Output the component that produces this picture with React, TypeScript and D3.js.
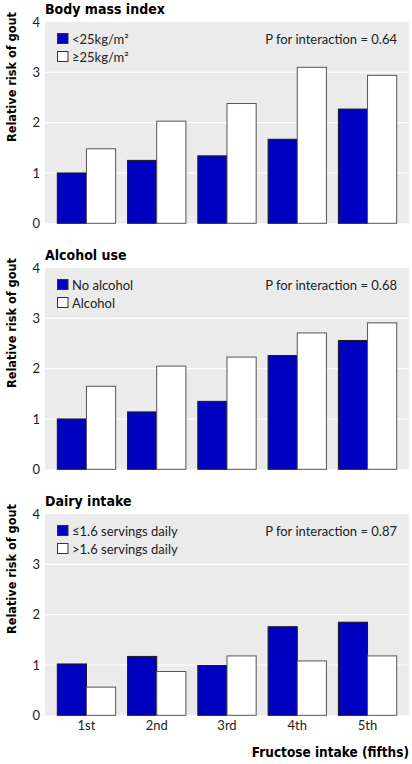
import React from "react";
import * as d3 from "d3";

const categories = ["1st", "2nd", "3rd", "4th", "5th"];
const yTicks = [0, 1, 2, 3, 4];

const panelTitles = ["Body mass index", "Alcohol use", "Dairy intake"];
const legendFirst = ["<25kg/m²", "No alcohol", "≤1.6 servings daily"];
const legendSecond = ["≥25kg/m²", "Alcohol", ">1.6 servings daily"];
const pValues = ["P for interaction = 0.64", "P for interaction = 0.68", "P for interaction = 0.87"];

const bmiLow = [1.0, 1.25, 1.34, 1.67, 2.27];
const bmiHigh = [1.48, 2.03, 2.38, 3.1, 2.94];
const alcoholNo = [1.0, 1.14, 1.35, 2.26, 2.56];
const alcoholYes = [1.65, 2.05, 2.23, 2.71, 2.91];
const dairyLow = [1.02, 1.17, 0.99, 1.76, 1.85];
const dairyHigh = [0.56, 0.87, 1.18, 1.08, 1.18];

const firstSeries = [bmiLow, alcoholNo, dairyLow];
const secondSeries = [bmiHigh, alcoholYes, dairyHigh];

const W = 412;
const H = 764;
const plotLeft = 45;
const plotRight = 409;
const panelTop0 = 22;
const panelStep = 246;
const plotH = 201.3;
const BLUE = "#0000c0";
const BG = "#ebebeb";
const FONT = "Lato, 'Noto Sans', sans-serif";
const BOLD_FONT = "'DejaVu Sans Condensed', 'Liberation Sans Narrow', sans-serif";
const NARROW_FONT = "'Liberation Sans Narrow', 'DejaVu Sans Condensed', sans-serif";

export default function App() {
  const x = d3
    .scaleBand<string>()
    .domain(categories)
    .range([plotLeft, plotRight])
    .paddingInner(0.17)
    .paddingOuter(0.175);
  const sub = d3.scaleBand<number>().domain([0, 1]).range([0, x.bandwidth()]);

  return (
    <svg
      width={W}
      height={H}
      style={{ position: "absolute", left: 0, top: 0, display: "block" }}
    >
      <rect x={0} y={0} width={W} height={H} fill="#ffffff" />
      {panelTitles.map((title, pi) => {
        const top = panelTop0 + pi * panelStep;
        const y = d3.scaleLinear().domain([0, 4]).range([top + plotH, top]);
        const series = [firstSeries[pi], secondSeries[pi]];
        return (
          <g key={pi}>
            <text
              x={plotLeft}
              y={top - 8.5}
              fontFamily={BOLD_FONT}
              fontWeight="bold"
              fontSize={14}
              fill="#000"
            >
              {title}
            </text>
            <rect
              x={plotLeft}
              y={top}
              width={plotRight - plotLeft}
              height={plotH}
              fill={BG}
            />
            {yTicks.map((t) => (
              <g key={t}>
                {t > 0 && t < 4 && (
                  <line
                    x1={plotLeft}
                    x2={plotRight}
                    y1={y(t)}
                    y2={y(t)}
                    stroke="#ffffff"
                    strokeWidth={1.2}
                  />
                )}
                <text
                  x={40}
                  y={y(t)}
                  dy="0.35em"
                  textAnchor="end"
                  fontFamily={FONT}
                  fontSize={13}
                  fill="#222"
                >
                  {t}
                </text>
              </g>
            ))}
            <text
              transform={`translate(16,${top + 55}) rotate(-90)`}
              textAnchor="middle"
              fontFamily={BOLD_FONT}
              fontWeight="bold"
              fontSize={12.6}
              fill="#000"
            >
              Relative risk of gout
            </text>
            {categories.map((c, ci) =>
              series.map((s, si) => (
                <rect
                  key={c + si}
                  x={(x(c) as number) + (sub(si) as number)}
                  y={y(s[ci])}
                  width={sub.bandwidth()}
                  height={y(0) - y(s[ci])}
                  fill={si === 0 ? BLUE : "#ffffff"}
                  stroke={si === 0 ? "#1a1a1a" : "#555"}
                  strokeWidth={1}
                />
              ))
            )}
            {[legendFirst[pi], legendSecond[pi]].map((lab, li) => (
              <g key={li}>
                <rect
                  x={57.5}
                  y={top + 11.5 + li * 18}
                  width={10.5}
                  height={10}
                  fill={li === 0 ? BLUE : "#ffffff"}
                  stroke="#333"
                  strokeWidth={1}
                />
                <text
                  x={72}
                  y={top + 21.5 + li * 18}
                  fontFamily={FONT}
                  fontSize={13}
                  fill="#222"
                >
                  {lab}
                </text>
              </g>
            ))}
            <text
              x={397}
              y={top + 21.5}
              textAnchor="end"
              fontFamily={FONT}
              fontSize={13}
              fill="#222"
            >
              {pValues[pi]}
            </text>
            {pi === 2 &&
              categories.map((c) => (
                <text
                  key={c}
                  x={(x(c) as number) + x.bandwidth() / 2}
                  y={top + plotH + 15}
                  textAnchor="middle"
                  fontFamily={FONT}
                  fontSize={13}
                  fill="#222"
                >
                  {c}
                </text>
              ))}
          </g>
        );
      })}
      <text
        x={409}
        y={757}
        textAnchor="end"
        fontFamily={NARROW_FONT}
        fontWeight="bold"
        fontSize={13.5}
        fill="#000"
      >
        Fructose intake (fifths)
      </text>
    </svg>
  );
}
